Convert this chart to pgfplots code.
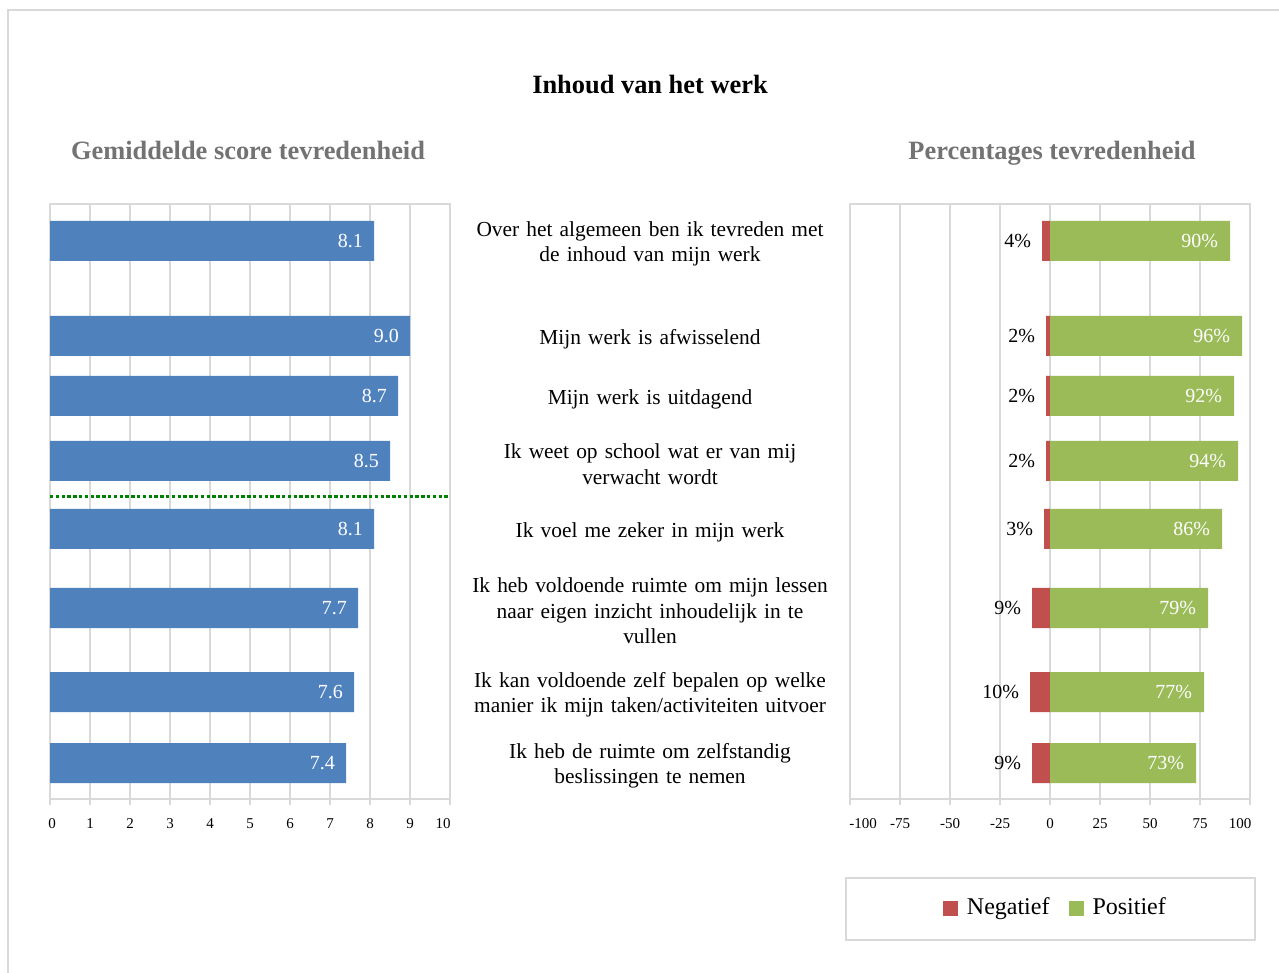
\documentclass[border=0pt]{standalone}
\usepackage{pgfplots}
\usepackage{pgfplotstable}
\pgfplotsset{compat=1.18}
\usepackage{fontspec}
\setmainfont{Liberation Serif}
\definecolor{bluebar}{HTML}{4F81BD}
\definecolor{redbar}{HTML}{C0504D}
\definecolor{greenbar}{HTML}{9BBB59}
\definecolor{gridgray}{HTML}{D9D9D9}
\definecolor{subgray}{HTML}{737373}
\definecolor{dotgreen}{HTML}{008000}

\pgfplotstableread{
y score
241 8.1
336 9.0
396 8.7
461 8.5
529 8.1
608 7.7
692 7.6
763 7.4
}\scoredata

\pgfplotstableread{
y neg pos
241 4 90
336 2 96
396 2 92
461 2 94
529 3 86
608 9 79
692 10 77
763 9 73
}\pctdata

\pgfplotsset{
  myaxis/.style={
    scale only axis, width=200pt, height=297.5pt,
    xbar, bar shift=0, y dir=reverse, ymin=204, ymax=799,
    bar width=40,
    axis line style={gridgray, line width=0.75pt},
    xmajorgrids, grid style={gridgray, line width=0.75pt},
    tick style={gridgray, line width=0.75pt},
    tick align=outside, major tick length=3pt,
    xtick pos=bottom,
    ytick style={draw=none},
    /pgf/number format/assume math mode=true,
    xticklabel style={font=\fontsize{7.5}{9}\selectfont, text=black, yshift=-3pt,
      text height=5.2pt, text depth=0pt},
    clip=false,
  }
}

\begin{document}
\begin{tikzpicture}[x=1pt,y=1pt]
\path[use as bounding box] (0,0) rectangle (639.5,486.5);
\begin{scope}
\clip (0,0) rectangle (639.5,486.5);
\draw[gridgray, line width=0.75pt] (4,481.5) rectangle (700,-10);
\end{scope}

\node[font=\fontsize{13.2}{15}\selectfont\bfseries] at (325,444) {Inhoud van het werk};
\node[font=\fontsize{13.2}{15}\selectfont\bfseries, text=subgray] at (124,411.5) {Gemiddelde score tevredenheid};
\node[font=\fontsize{13.2}{15}\selectfont\bfseries, text=subgray] at (526,410) {Percentages tevredenheid};

% left chart
\begin{axis}[myaxis, at={(25pt,87pt)}, anchor=south west,
  xmin=0, xmax=10, xtick={0,1,...,10},
  xticklabels={\hspace*{2pt}0,1,2,3,4,5,6,7,8,9,10\hspace*{7pt}},
  ytick=\empty]
\addplot[fill=bluebar, draw=none, point meta=x,
  nodes near coords,
  nodes near coords style={anchor=east, text=white, xshift=-2pt,
    font=\fontsize{10}{12}\selectfont,
    /pgf/number format/.cd, fixed, fixed zerofill, precision=1}]
  table[x=score, y=y] {\scoredata};
\addplot[sharp plot, dotgreen, line width=1.5pt, dash pattern=on 1.7pt off 1.2pt, forget plot]
  coordinates {(0,497) (10,497)};
\end{axis}

% right chart
\begin{axis}[myaxis, at={(425pt,87pt)}, anchor=south west,
  xmin=-100, xmax=100, xtick={-100,-75,...,100},
  xticklabels={\hspace*{13pt}-100,-75,-50,-25,0,25,50,75,100\hspace*{10pt}},
  ytick={241,336,396,461,529,608,692,763},
  yticklabels={{Over het algemeen ben ik tevreden met\\de inhoud van mijn werk},
    {Mijn werk is afwisselend},
    {Mijn werk is uitdagend},
    {Ik weet op school wat er van mij\\verwacht wordt},
    {Ik voel me zeker in mijn werk},
    {Ik heb voldoende ruimte om mijn lessen\\naar eigen inzicht inhoudelijk in te\\vullen},
    {Ik kan voldoende zelf bepalen op welke\\manier ik mijn taken/activiteiten uitvoer},
    {Ik heb de ruimte om zelfstandig\\beslissingen te nemen}},
  yticklabel style={anchor=center, xshift=-97pt, yshift=-1.5pt, text width=185pt, align=center,
    font=\fontsize{10.7}{12.7}\selectfont, text=black, text height=, text depth=},
  legend columns=-1,
  legend style={at={(0.516,-0.1832)}, anchor=center, draw=none,
    font=\fontsize{12}{14}\selectfont,
    /tikz/every even column/.append style={column sep=7.5pt}},
]
\addplot[fill=redbar, draw=none, point meta=\thisrow{neg},
  nodes near coords={\pgfmathprintnumber{\pgfplotspointmeta}\%},
  nodes near coords style={anchor=east, text=black, xshift=-2pt,
    font=\fontsize{10}{12}\selectfont},
  legend image code/.code={\fill[redbar] (0pt,-3.75pt) rectangle (7.5pt,3.75pt); \path (10pt,0pt);}]
  table[x expr=-\thisrow{neg}, y=y] {\pctdata};
\addlegendentry{Negatief}
\addplot[fill=greenbar, draw=none, point meta=\thisrow{pos},
  nodes near coords={\pgfmathprintnumber{\pgfplotspointmeta}\%},
  nodes near coords style={anchor=east, text=white, xshift=-2.5pt,
    font=\fontsize{10}{12}\selectfont},
  legend image code/.code={\fill[greenbar] (0pt,-3.75pt) rectangle (7.5pt,3.75pt); \path (10pt,0pt);}]
  table[x=pos, y=y] {\pctdata};
\addlegendentry{Positief}
\end{axis}
\draw[gridgray, line width=0.75pt] (423,16.5) rectangle (627.5,47.5);
\end{tikzpicture}
\end{document}
